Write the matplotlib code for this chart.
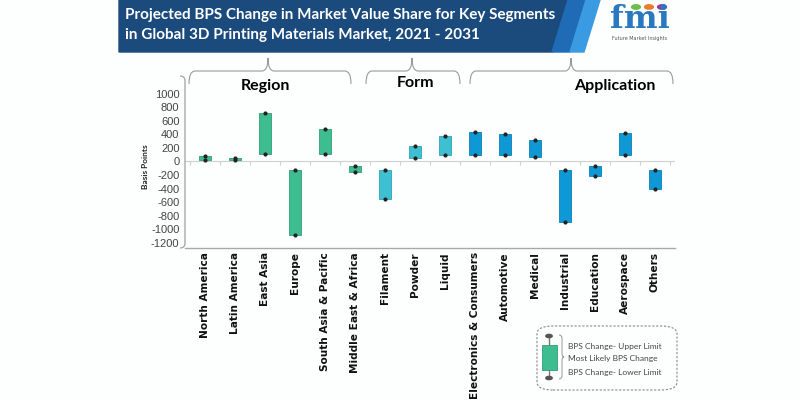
import numpy as np
import matplotlib
matplotlib.use("Agg")
import matplotlib.pyplot as plt
from matplotlib.path import Path
from matplotlib.patches import PathPatch, Polygon, FancyBboxPatch, Rectangle

# data (basis points)
categories = ["North America", "Latin America", "East Asia", "Europe",
              "South Asia & Pacific", "Middle East & Africa",
              "Filament", "Powder", "Liquid",
              "Electronics & Consumers", "Automotive", "Medical", "Industrial",
              "Education", "Aerospace", "Others"]
groups = ["Region"] * 6 + ["Form"] * 3 + ["Application"] * 7
upper = [80, 50, 710, -120, 480, -60, -120, 230, 370, 440, 400, 320, -130, -70, 420, -120]
lower = [20, 15, 110, -1080, 110, -150, -550, 50, 100, 100, 100, 60, -890, -210, 100, -400]

group_colors = {"Region": "#3dbd90", "Form": "#3fc0d2", "Application": "#0e98d6"}
edge_colors = {"Region": "#2f9f76", "Form": "#2fa3b4", "Application": "#0a7fb5"}

W, H = 800, 400
fig = plt.figure(figsize=(8, 4), dpi=100)
fig.patch.set_facecolor("#fdfefe")


def fx(x):
    return x / W


def fy(y):
    return 1 - y / H


def brace(x0, x1, xc, y, yp, ye, r=6):
    verts = [(x0, ye), (x0, y), (x0 + r, y),
             (xc - r, y), (xc, y), (xc, yp),
             (xc, y), (xc + r, y),
             (x1 - r, y), (x1, y), (x1, ye)]
    codes = [Path.MOVETO, Path.CURVE3, Path.CURVE3,
             Path.LINETO, Path.CURVE3, Path.CURVE3,
             Path.CURVE3, Path.CURVE3,
             Path.LINETO, Path.CURVE3, Path.CURVE3]
    verts = [(fx(a), fy(b)) for a, b in verts]
    fig.patches.append(PathPatch(Path(verts, codes), transform=fig.transFigure,
                                 fill=False, edgecolor="#9a9a9a", lw=0.8))


# header banner
fig.patches.append(Polygon([(fx(119), fy(0)), (fx(568), fy(0)), (fx(552), fy(52)), (fx(119), fy(52))],
                           closed=True, transform=fig.transFigure, color="#1b4a7d"))
fig.patches.append(Polygon([(fx(568), fy(0)), (fx(586), fy(0)), (fx(570), fy(52)), (fx(552), fy(52))],
                           closed=True, transform=fig.transFigure, color="#1f6bb5"))
fig.patches.append(Polygon([(fx(586), fy(0)), (fx(600), fy(0)), (fx(584), fy(52)), (fx(570), fy(52))],
                           closed=True, transform=fig.transFigure, color="#3a9be3"))
fig.text(fx(125), fy(15), "Projected BPS Change in Market Value Share for Key Segments",
         color="white", fontsize=11, fontweight="bold", family="Lato", va="center")
fig.text(fx(125), fy(35), "in Global 3D Printing Materials Market, 2021 - 2031",
         color="white", fontsize=11, fontweight="bold", family="Lato", va="center")

# logo
fig.text(fx(640), fy(35), "fmi", color="#2a78bf", fontsize=23, fontweight="bold",
         family="DejaVu Serif", ha="center", va="bottom")
for cx, c in zip([636, 649, 662], ["#6cbf4b", "#f07c2a", "#8b3f9b"]):
    fig.patches.append(plt.Circle((fx(cx), fy(7)), 0.0055, transform=fig.transFigure, color=c))
fig.text(fx(640), fy(36), "Future Market Insights", color="#555", fontsize=3.5,
         ha="center", va="top")

# main axes
ax = fig.add_axes([185 / W, 1 - 248 / H, 490 / W, 172 / H])
ax.set_facecolor("none")
x = np.arange(len(categories))
colors = [group_colors[g] for g in groups]
edges = [edge_colors[g] for g in groups]
heights = np.array(upper) - np.array(lower)
ax.bar(x, heights, bottom=lower, width=0.4, color=colors, edgecolor=edges, linewidth=0.6, zorder=3)
ax.scatter(x, upper, s=4, color="#222222", zorder=4)
ax.scatter(x, lower, s=4, color="#222222", zorder=4)

ax.axhline(0, color="#d0d0d0", lw=0.8, zorder=1)
ax.vlines(np.arange(-0.5, len(categories)), -55, 0, color="#d0d0d0", lw=0.8, zorder=1)

ax.set_xlim(-0.667, 15.667)
ax.set_ylim(-1278, 1263)
ax.set_yticks(np.arange(-1200, 1001, 200))
ax.set_yticklabels([str(v) for v in range(-1200, 1001, 200)], fontsize=8,
                   color="#444444", family="Liberation Sans")
ax.set_xticks(x)
ax.set_xticklabels(categories, rotation=90, fontsize=7.6, fontweight="bold",
                   family="DejaVu Sans", color="#111111", va="top")
ax.tick_params(axis="both", length=0)
ax.tick_params(axis="y", pad=4)
ax.tick_params(axis="x", pad=3)
for s in ["top", "right", "left"]:
    ax.spines[s].set_visible(False)
ax.spines["bottom"].set_color("#a8a8a8")
ax.spines["bottom"].set_linewidth(1.0)

fig.text(fx(145), fy(167), "Basis Points", rotation=90, fontsize=6, fontweight="bold",
         family="Lato", ha="center", va="center", color="#222")

# y axis bracket
ypath = Path([(fx(180), fy(76)), (fx(185), fy(76)), (fx(185), fy(81)),
              (fx(185), fy(243)), (fx(185), fy(248)), (fx(180), fy(248))],
             [Path.MOVETO, Path.CURVE3, Path.CURVE3, Path.LINETO, Path.CURVE3, Path.CURVE3])
fig.patches.append(PathPatch(ypath, transform=fig.transFigure, fill=False,
                             edgecolor="#a8a8a8", lw=1.0))

# group braces and labels
brace(189, 351, 268, 71, 58, 84)
brace(366, 460, 412, 71, 58, 84)
brace(470, 673, 571, 71, 58, 84)
fig.text(fx(265), fy(86), "Region", fontsize=11.5, fontweight="bold", family="Lato",
         ha="center", va="center")
fig.text(fx(416), fy(83), "Form", fontsize=11.5, fontweight="bold", family="Lato",
         ha="center", va="center")
fig.text(fx(615), fy(86), "Application", fontsize=11.5, fontweight="bold", family="Lato",
         ha="center", va="center")

# legend
fig.patches.append(FancyBboxPatch((fx(537), fy(390)), fx(140), 64 / H,
                                  boxstyle="round,pad=0,rounding_size=0.02",
                                  transform=fig.transFigure, fill=False,
                                  edgecolor="#888", lw=0.8, linestyle=(0, (2, 1.5))))
fig.lines.append(plt.Line2D([fx(549), fx(549)], [fy(336), fy(378)], transform=fig.transFigure,
                            color="#777", lw=1.0))
fig.patches.append(Rectangle((fx(542), fy(370)), 15 / W, 25 / H, transform=fig.transFigure,
                             facecolor="#3dbd90", edgecolor="#2f9f76", lw=0.6, zorder=3))
for yy in [336, 378]:
    fig.patches.append(plt.Circle((fx(549), fy(yy)), 0.004, transform=fig.transFigure,
                                  color="#555", zorder=4))
bpath = Path([(fx(559), fy(335)), (fx(562), fy(335)), (fx(562), fy(338)),
              (fx(562), fy(354)), (fx(562), fy(357)), (fx(564), fy(357)),
              (fx(562), fy(357)), (fx(562), fy(360)),
              (fx(562), fy(376)), (fx(562), fy(379)), (fx(559), fy(379))],
             [Path.MOVETO, Path.CURVE3, Path.CURVE3, Path.LINETO, Path.CURVE3, Path.CURVE3,
              Path.CURVE3, Path.CURVE3, Path.LINETO, Path.CURVE3, Path.CURVE3])
fig.patches.append(PathPatch(bpath, transform=fig.transFigure, fill=False,
                             edgecolor="#888", lw=0.6))
for yy, t in zip([347, 359, 372], ["BPS Change- Upper Limit", "Most Likely BPS Change",
                                   "BPS Change- Lower Limit"]):
    fig.text(fx(568), fy(yy), t, fontsize=6, color="#444", family="Lato", va="center")

fig.savefig("out.png", dpi=100, facecolor=fig.get_facecolor())
